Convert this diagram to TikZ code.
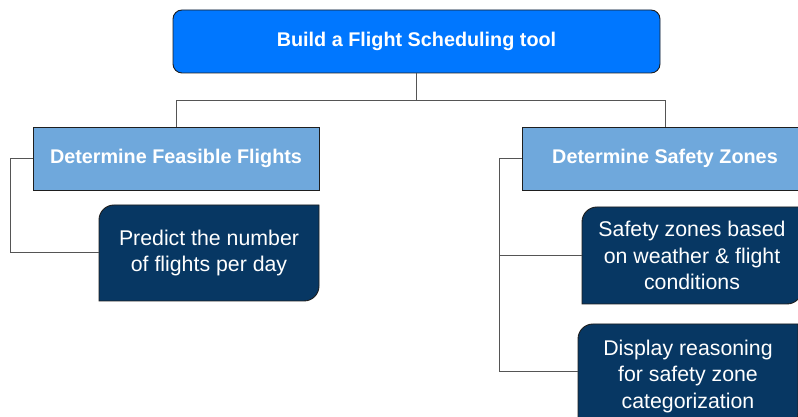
\documentclass[tikz,border=0pt]{standalone}
\usepackage{fontspec}
\setmainfont{Liberation Sans}
\definecolor{topblue}{RGB}{0,119,255}
\definecolor{midblue}{RGB}{111,168,220}
\definecolor{navy}{RGB}{7,55,99}
\definecolor{edge}{RGB}{30,30,30}
\definecolor{wire}{RGB}{85,85,85}
\tikzset{
  topbox/.style={draw=edge, line width=0.9pt, fill=topblue, rounded corners=9pt, minimum width=487pt, minimum height=63pt, text=white, font=\fontsize{19.8}{22}\selectfont\bfseries, inner sep=0pt},
  midbox/.style={draw=edge, line width=0.9pt, fill=midblue, minimum width=286pt, minimum height=63pt, text=white, font=\fontsize{19.8}{22}\selectfont\bfseries, inner sep=0pt},
  leafbox/.style={minimum width=220pt, minimum height=96pt, text=white, font=\fontsize{21.3}{26.5}\selectfont, align=center, inner sep=0pt},
  leafbg/.style={draw=edge, line width=0.9pt, fill=navy},
  wirestyle/.style={draw=wire, line width=1pt},
}
% center x, center y, width, height
\newcommand{\leafshape}[4]{%
  \path[leafbg] ({#1-#3/2},{#2-#4/2}) -- ({#1-#3/2},{#2+#4/2-15}) arc[start angle=180,end angle=90,radius=15pt] -- ({#1+#3/2},{#2+#4/2}) -- ({#1+#3/2},{#2-#4/2+15}) arc[start angle=0,end angle=-90,radius=15pt] -- cycle;}
\begin{document}
\begin{tikzpicture}[x=1pt,y=1pt]
\useasboundingbox (0,0) rectangle (798,417);
\fill[white] (0,0) rectangle (798,417);
\clip (0,0) rectangle (798,417);
\leafshape{209}{164}{220}{96}
\leafshape{692}{161.5}{220}{97}
\leafshape{688}{41}{220}{104}
\node[topbox] (top) at (416.5,375.5) {Build a Flight Scheduling tool};
\node[midbox] (l2l) at (176,258.5) {Determine Feasible Flights};
\node[midbox] (l2r) at (665,258.5) {Determine Safety Zones};
\node[leafbox] (lf) at (209,164) {Predict the number\\of flights per day};
\node[leafbox, minimum height=97pt] (r1) at (692,161.5) {Safety zones based\\on weather \& flight\\conditions};
\node[leafbox, minimum height=104pt] (r2) at (688,41) {Display reasoning\\for safety zone\\categorization};
\draw[wirestyle] (top.south) -- ++(0,-27) -| (l2l.north);
\draw[wirestyle] (top.south) -- ++(0,-27) -| (l2r.north);
\draw[wirestyle] (l2l.west) -- ++(-22,0) |- (lf.west);
\draw[wirestyle] (l2r.west) -- ++(-22,0) |- (r1.west);
\draw[wirestyle] (l2r.west) -- ++(-22,0) |- ([yshift=4pt]r2.west);
\end{tikzpicture}
\end{document}
